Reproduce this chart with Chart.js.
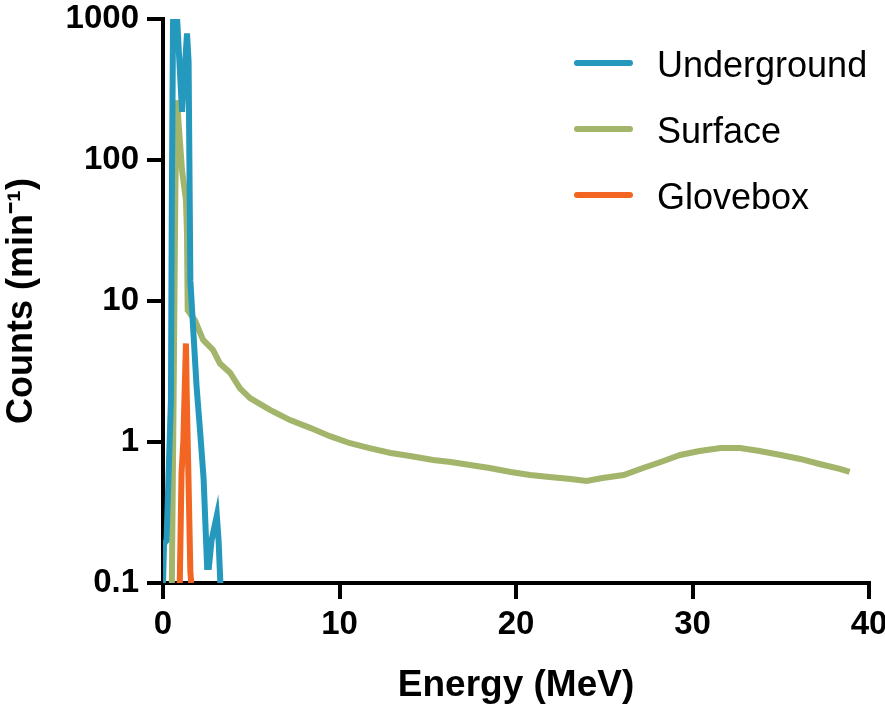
<!DOCTYPE html>
<html>
<head>
<meta charset="utf-8">
<script src="https://cdn.jsdelivr.net/npm/chart.js@4/dist/chart.umd.min.js"></script>
<style>
  html, body { margin: 0; padding: 0; background: #fff; }
  #wrap { width: 885px; height: 706px; }
</style>
</head>
<body>
<div id="wrap"><canvas id="chart" width="885" height="706"></canvas></div>
<script>
// Energy (MeV) / counts per minute
const undergroundEnergy = [0, 0.06, 0.2, 0.45, 0.5, 0.57, 0.8, 1.08, 1.36, 1.45, 1.55, 1.9, 2.1, 2.3, 2.5, 2.6, 2.75, 3.05, 3.15, 3.25];
const undergroundCounts = [0.1, 0.19, 0.2, 2, 50, 1000, 1000, 220, 790, 500, 14, 2.5, 1.2, 0.55, 0.13, 0.13, 0.2, 0.3, 0.2, 0.1];

const surfaceEnergy = [0.5, 0.6, 0.7, 0.79, 1.08, 1.3, 1.36, 1.4, 1.81, 2.27, 2.83, 3.23, 3.8, 4.36, 4.93, 6.06, 7.2, 8.33, 9.46, 10.6, 11.7, 12.9, 14.0, 15.3, 16.3, 17.4, 18.5, 19.7, 20.8, 21.9, 23.1, 24.0, 24.9, 26.1, 27.2, 28.2, 29.3, 30.4, 31.6, 32.7, 33.8, 35.0, 36.1, 37.2, 38.4, 38.9];
const surfaceCounts = [0.1, 2, 60, 265, 84, 52, 30, 8.6, 7.3, 5.3, 4.5, 3.6, 3.1, 2.4, 2.05, 1.69, 1.43, 1.26, 1.10, 0.98, 0.906, 0.835, 0.796, 0.745, 0.721, 0.687, 0.654, 0.613, 0.583, 0.565, 0.547, 0.529, 0.555, 0.583, 0.654, 0.721, 0.809, 0.863, 0.906, 0.906, 0.863, 0.809, 0.758, 0.698, 0.643, 0.613];

const gloveboxEnergy = [0.95, 1.05, 1.15, 1.3, 1.35, 1.45, 1.55, 1.6];
const gloveboxCounts = [0.1, 0.6, 1.0, 5.0, 2.0, 0.5, 0.12, 0.1];

const seriesNames = ['Underground', 'Surface', 'Glovebox'];
const seriesColors = ['#2499BD', '#A3B56B', '#F26522'];

const xTicks = [0, 10, 20, 30, 40];
const yTicks = [0.1, 1, 10, 100, 1000];

const FONT = "'Liberation Sans', Arial, sans-serif";

const toPoints = (xs, ys) => xs.map((x, i) => ({ x: x, y: ys[i] }));

// legend drawn inside the plot, top right
const insideLegend = {
  id: 'insideLegend',
  afterDraw(chart) {
    const ctx = chart.ctx;
    const area = chart.chartArea;
    ctx.save();
    chart.data.datasets.forEach((ds, i) => {
      const y = area.top + 44 + i * 66;
      ctx.strokeStyle = ds.borderColor;
      ctx.lineWidth = 6;
      ctx.lineCap = 'round';
      ctx.beginPath();
      ctx.moveTo(area.right - 292, y);
      ctx.lineTo(area.right - 239, y);
      ctx.stroke();
      ctx.fillStyle = '#000';
      ctx.font = '36px ' + FONT;
      ctx.textBaseline = 'alphabetic';
      ctx.fillText(ds.label, area.right - 212, y + 14);
    });
    ctx.restore();
  }
};

const ctx = document.getElementById('chart').getContext('2d');
new Chart(ctx, {
  type: 'line',
  data: {
    datasets: [
      { label: seriesNames[0], data: toPoints(undergroundEnergy, undergroundCounts) },
      { label: seriesNames[1], data: toPoints(surfaceEnergy, surfaceCounts) },
      { label: seriesNames[2], data: toPoints(gloveboxEnergy, gloveboxCounts) }
    ].map((ds, i) => Object.assign(ds, {
      borderColor: seriesColors[i],
      backgroundColor: seriesColors[i],
      borderWidth: 6,
      pointRadius: 0,
      tension: 0,
      fill: false
    }))
  },
  options: {
    responsive: false,
    animation: false,
    layout: { padding: { top: 19, right: 16, left: 0, bottom: 0 } },
    plugins: {
      legend: { display: false },
      tooltip: { enabled: false }
    },
    scales: {
      x: {
        type: 'linear',
        min: 0,
        max: 40,
        afterBuildTicks: (scale) => { scale.ticks = xTicks.map(v => ({ value: v })); },
        afterFit: (scale) => { scale.height = 123; scale.paddingLeft = 0; scale.paddingRight = 0; },
        grid: { drawOnChartArea: false, drawTicks: true, tickLength: 16, color: '#000', lineWidth: 4 },
        border: { color: '#000', width: 4 },
        ticks: { color: '#000', padding: 6, maxRotation: 0, font: { family: FONT, size: 33, weight: 'bold' } },
        title: { display: true, text: 'Energy (MeV)', color: '#000', padding: 0, font: { family: FONT, size: 37, weight: 'bold', lineHeight: 1.1 } }
      },
      y: {
        type: 'logarithmic',
        min: 0.1,
        max: 1000,
        afterBuildTicks: (scale) => { scale.ticks = yTicks.map(v => ({ value: v })); },
        afterFit: (scale) => { scale.width = 163; scale.paddingTop = 0; scale.paddingBottom = 0; },
        grid: { drawOnChartArea: false, drawTicks: true, tickLength: 16, color: '#000', lineWidth: 4 },
        border: { color: '#000', width: 4 },
        ticks: { color: '#000', padding: 8, callback: (v) => String(v), font: { family: FONT, size: 33, weight: 'bold' } },
        title: { display: true, text: 'Counts (min\u207B\u00B9)', color: '#000', padding: 0, font: { family: FONT, size: 36, weight: 'bold', lineHeight: 1.2 } }
      }
    }
  },
  plugins: [insideLegend]
});
</script>
</body>
</html>
